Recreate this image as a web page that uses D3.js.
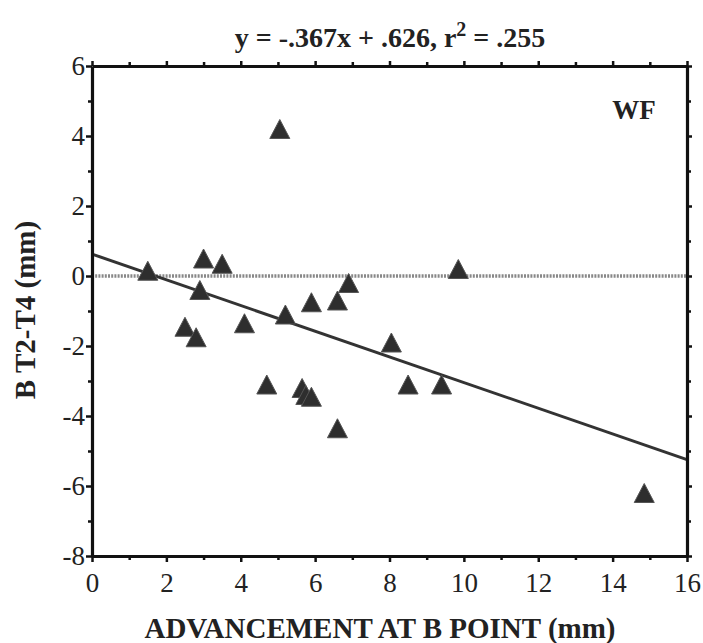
<!DOCTYPE html>
<html>
<head>
<meta charset="utf-8">
<script src="https://cdn.jsdelivr.net/npm/d3@7"></script>
<style>
  body { margin: 0; background: #fff; }
  text { font-family: "Liberation Serif", "DejaVu Serif", serif; fill: #222; }
</style>
</head>
<body>
<svg id="chart" width="703" height="643"></svg>
<script>
// data: advancement at B point (mm) vs B T2-T4 change (mm)
const advancement = [1.5, 3.0, 3.5, 2.9, 6.9, 5.9, 6.6, 5.2, 4.1, 2.5, 2.8, 4.7,
                     5.65, 5.75, 5.9, 6.6, 9.85, 8.05, 8.5, 9.4, 14.85, 5.05];
const changeT2T4 = [0.15, 0.5, 0.35, -0.4, -0.2, -0.75, -0.7, -1.1, -1.35, -1.45, -1.75, -3.1,
                    -3.2, -3.4, -3.45, -4.35, 0.2, -1.9, -3.1, -3.1, -6.2, 4.2];
const xTicks = [0, 2, 4, 6, 8, 10, 12, 14, 16];
const yTicks = [6, 4, 2, 0, -2, -4, -6, -8];
const slope = -0.367, intercept = 0.626;

const svg = d3.select('#chart');
const margin = { left: 92, right: 16, top: 66, bottom: 87 };
const width = 703 - margin.left - margin.right;
const height = 643 - margin.top - margin.bottom;

const x = d3.scaleLinear().domain([0, 16]).range([margin.left, margin.left + width]);
const y = d3.scaleLinear().domain([-8, 6]).range([margin.top + height, margin.top]);

const minorX = d3.range(1, 16, 2);
const minorY = d3.range(-7, 6, 2);
const plainFormat = d => String(d); // hyphen, not unicode minus

// zero reference line (grainy dotted)
svg.append('line')
    .attr('x1', x(0)).attr('x2', x(16))
    .attr('y1', y(0)).attr('y2', y(0))
    .attr('stroke', '#888').attr('stroke-width', 3.5)
    .attr('stroke-dasharray', '2 1.2');

// regression line
svg.append('line')
    .attr('x1', x(0)).attr('x2', x(16))
    .attr('y1', y(intercept)).attr('y2', y(slope * 16 + intercept))
    .attr('stroke', '#333').attr('stroke-width', 3);

// triangles, centred on their bounding box
const tri = 'M0,-9.5L10,9.5L-10,9.5Z';
svg.append('g').selectAll('path')
    .data(advancement.map((d, i) => [d, changeT2T4[i]]))
    .join('path')
    .attr('d', tri)
    .attr('transform', d => `translate(${x(d[0])},${y(d[1])})`)
    .attr('fill', '#2e2e2e')
    .attr('stroke', '#555').attr('stroke-width', 1);

// axes: major ticks labelled, minor ticks shorter
const axisStyle = g => {
    g.select('.domain').attr('stroke', '#111').attr('stroke-width', 3.2);
    g.selectAll('.tick line').attr('stroke', '#111').attr('stroke-width', 2.5);
};

svg.append('g')
    .attr('transform', `translate(0,${y(-8)})`)
    .call(d3.axisBottom(x).tickValues(xTicks).tickFormat(plainFormat).tickSize(6).tickPadding(11).tickSizeOuter(0))
    .call(axisStyle)
    .call(g => g.selectAll('text').attr('font-size', 27).attr('fill', '#222'));
svg.append('g')
    .attr('transform', `translate(0,${y(-8)})`)
    .call(d3.axisBottom(x).tickValues(minorX).tickSize(4).tickFormat('').tickSizeOuter(0))
    .call(axisStyle).call(g => g.select('.domain').remove());

svg.append('g')
    .attr('transform', `translate(${x(0)},0)`)
    .call(d3.axisLeft(y).tickValues(yTicks).tickFormat(plainFormat).tickSize(6).tickPadding(1).tickSizeOuter(0))
    .call(axisStyle)
    .call(g => g.selectAll('text').attr('font-size', 27).attr('fill', '#222'));
svg.append('g')
    .attr('transform', `translate(${x(0)},0)`)
    .call(d3.axisLeft(y).tickValues(minorY).tickSize(4).tickFormat('').tickSizeOuter(0))
    .call(axisStyle).call(g => g.select('.domain').remove());

svg.append('g')
    .attr('transform', `translate(0,${y(6)})`)
    .call(d3.axisTop(x).tickValues(xTicks).tickSize(5).tickFormat('').tickSizeOuter(0))
    .call(axisStyle);
svg.append('g')
    .attr('transform', `translate(0,${y(6)})`)
    .call(d3.axisTop(x).tickValues(minorX).tickSize(4).tickFormat('').tickSizeOuter(0))
    .call(axisStyle).call(g => g.select('.domain').remove());

svg.append('g')
    .attr('transform', `translate(${x(16)},0)`)
    .call(d3.axisRight(y).tickValues(yTicks).tickSize(5).tickFormat('').tickSizeOuter(0))
    .call(axisStyle);
svg.append('g')
    .attr('transform', `translate(${x(16)},0)`)
    .call(d3.axisRight(y).tickValues(minorY).tickSize(4).tickFormat('').tickSizeOuter(0))
    .call(axisStyle).call(g => g.select('.domain').remove());

// titles
const title = svg.append('text')
    .attr('x', 390).attr('y', 47)
    .attr('text-anchor', 'middle')
    .attr('font-size', 28).attr('font-weight', 'bold');
title.append('tspan').text('y = -.367x + .626, r');
title.append('tspan').attr('dy', -11).attr('font-size', 20).text('2');
title.append('tspan').attr('dy', 11).text(' = .255');

svg.append('text')
    .attr('x', 380).attr('y', 638)
    .attr('text-anchor', 'middle')
    .attr('font-size', 29).attr('font-weight', 'bold')
    .text('ADVANCEMENT AT B POINT (mm)');

svg.append('text')
    .attr('transform', `translate(35,310) rotate(-90)`)
    .attr('text-anchor', 'middle')
    .attr('font-size', 29).attr('font-weight', 'bold')
    .text('B T2-T4 (mm)');

svg.append('text')
    .attr('x', 634).attr('y', 119)
    .attr('text-anchor', 'middle')
    .attr('font-size', 27).attr('font-weight', 'bold')
    .text('WF');
</script>
</body>
</html>
